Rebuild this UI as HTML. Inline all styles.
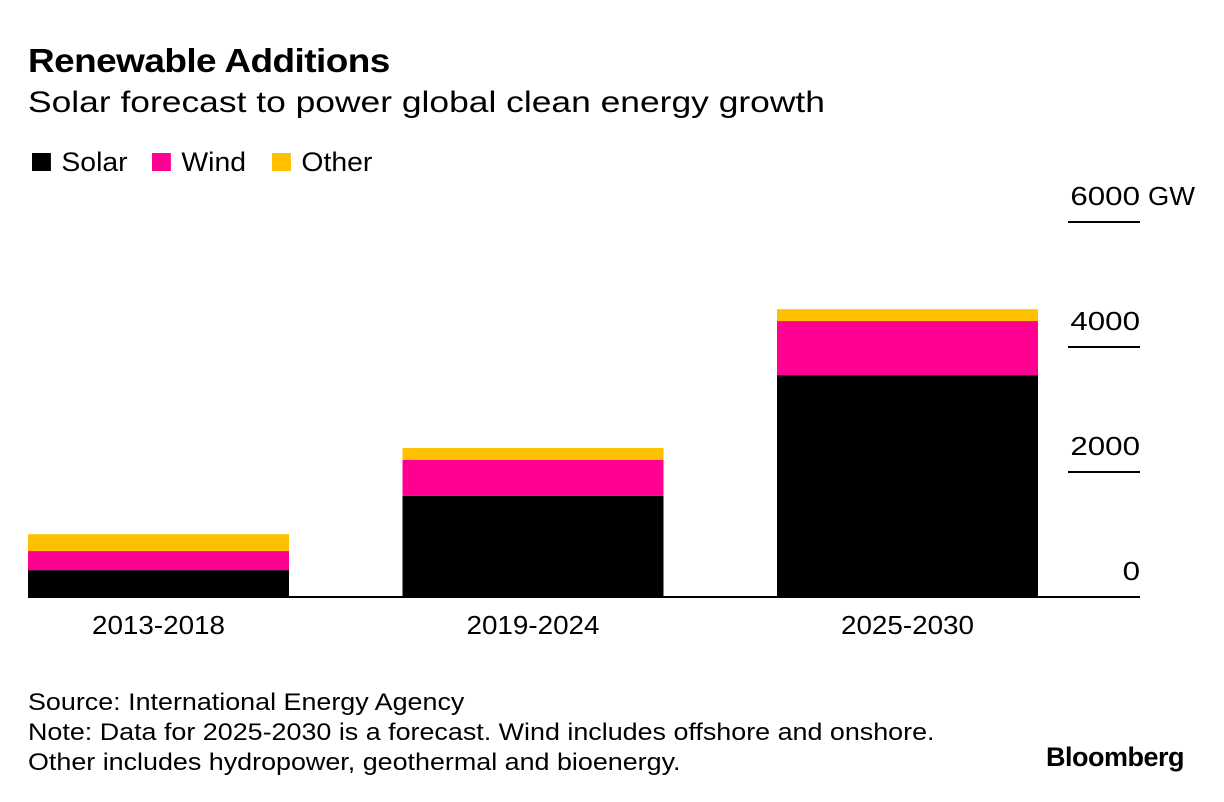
<!DOCTYPE html>
<html><head><meta charset="utf-8"><style>
body{margin:0;background:#fff;font-family:"Liberation Sans",Arial,sans-serif;}
#wrap{position:relative;width:1224px;height:802px;overflow:hidden;}
.t{position:absolute;white-space:nowrap;color:#000;transform-origin:0 0;}
</style></head><body>
<div id="wrap">
<div class="t" style="left:28px;top:42px;font-size:33px;font-weight:bold;letter-spacing:-0.5px;transform:scaleX(1.12)">Renewable Additions</div>
<div class="t" style="left:28px;top:86px;font-size:30px;transform:scaleX(1.18)">Solar forecast to power global clean energy growth</div>
<div class="t" style="left:32px;top:147px;font-size:27px;transform:scaleX(1.05)"><span style="display:inline-block;width:18px;height:18px;background:#000;margin-right:10px"></span>Solar</div>
<div class="t" style="left:152px;top:147px;font-size:27px;transform:scaleX(1.05)"><span style="display:inline-block;width:18px;height:18px;background:#ff0090;margin-right:10px"></span>Wind</div>
<div class="t" style="left:272px;top:147px;font-size:27px;transform:scaleX(1.05)"><span style="display:inline-block;width:18px;height:18px;background:#ffc000;margin-right:10px"></span>Other</div>
<svg id="plot" width="1224" height="802" style="position:absolute;left:0;top:0"></svg>
<div class="t" style="left:28px;top:688px;font-size:24px;line-height:30px;transform:scaleX(1.12)">Source: International Energy Agency<br>Note: Data for 2025-2030 is a forecast. Wind includes offshore and onshore.<br>Other includes hydropower, geothermal and bioenergy.</div>
<div class="t" style="left:1046px;top:742px;font-size:27px;font-weight:bold;letter-spacing:-0.5px">Bloomberg</div>
</div>
<script>
const categories=["2013-2018","2019-2024","2025-2030"];
const solar=[430,1620,3550];
const wind=[305,575,865];
const other=[270,190,190];
const ticks=[0,2000,4000,6000];
const colors={solar:"#000",wind:"#ff0090",other:"#ffc000"};
const NS="http://www.w3.org/2000/svg";
const svg=document.getElementById('plot');
const y0=597,pxPer=125/2000;
const y=v=>y0-v*pxPer;
const barX=i=>28+i*374.5, barW=261;
function mk(t,a){const e=document.createElementNS(NS,t);for(const k in a)e.setAttribute(k,a[k]);svg.appendChild(e);return e;}
ticks.forEach((t,i)=>{
  if(t>0){const l=mk('line',{x1:1068,x2:1140,y1:y(t),y2:y(t),stroke:'#000','stroke-width':2});
  
  }
  const s=String(t);
  const tx=mk('text',{x:1140,y:y(t)-17,'text-anchor':'end','font-size':26,'font-family':'Liberation Sans, Arial, sans-serif',textLength:s.length*17.4,lengthAdjust:'spacingAndGlyphs'});
  tx.textContent=s;
  
  
  if(i===ticks.length-1){const u=mk('text',{x:1148,y:y(t)-17,'font-size':26,'font-family':'Liberation Sans, Arial, sans-serif',textLength:47,lengthAdjust:'spacingAndGlyphs'});u.textContent='GW';
  
  }
});
categories.forEach((c,i)=>{
  let base=0;
  [['solar',solar],['wind',wind],['other',other]].forEach(([k,arr])=>{
    const v=arr[i];
    const r=mk('rect',{x:barX(i),y:y(base+v),width:barW,height:v*pxPer,fill:colors[k]});
    
    
    base+=v;
  });
  const tx=mk('text',{x:barX(i)+barW/2,y:634,'text-anchor':'middle','font-size':26,'font-family':'Liberation Sans, Arial, sans-serif',textLength:133,lengthAdjust:'spacingAndGlyphs'});
  tx.textContent=c;
  
  
});
const ax=mk('line',{x1:28,x2:1140,y1:y0,y2:y0,stroke:'#000','stroke-width':2});


</script>
</body></html>
